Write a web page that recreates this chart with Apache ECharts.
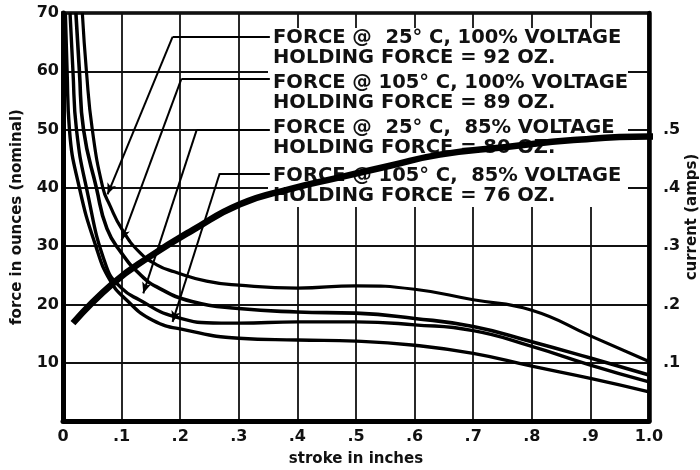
<!DOCTYPE html>
<html><head><meta charset="utf-8">
<script src="https://cdn.jsdelivr.net/npm/echarts@6/dist/echarts.min.js"></script>
<style>html,body{margin:0;padding:0;background:#fff}#c{width:700px;height:470px}</style>
</head><body><div id="c"></div>
<script>
// stroke (inches) vs force (ounces)
const force25c100 = [[0.033,70],[0.04,60],[0.05,50],[0.068,40],[0.08,37],[0.1,33],[0.13,29],[0.16,26.8],[0.19,25.6],[0.245,24],[0.3,23.3],[0.4,22.8],[0.5,23.2],[0.6,22.6],[0.7,20.8],[0.8,19.0],[0.9,14.6],[1.0,10.2]];
const force105c100 = [[0.022,70],[0.028,60],[0.035,50],[0.057,40],[0.075,33],[0.1,28.8],[0.13,25.3],[0.16,23.0],[0.22,20.5],[0.3,19.3],[0.4,18.7],[0.5,18.5],[0.6,17.6],[0.7,16.2],[0.8,13.6],[0.9,10.8],[1.0,7.9]];
const force25c85 = [[0.012,70],[0.017,60],[0.023,50],[0.04,40],[0.074,26.5],[0.1,22.8],[0.13,20.8],[0.19,17.9],[0.27,16.8],[0.3,16.8],[0.4,17.0],[0.5,17.0],[0.6,16.5],[0.7,15.5],[0.8,12.8],[0.9,9.6],[1.0,6.7]];
const force105c85 = [[0.004,70],[0.007,60],[0.011,50],[0.028,40],[0.056,30],[0.08,24.2],[0.108,20.8],[0.153,17.3],[0.21,15.6],[0.3,14.2],[0.4,13.9],[0.5,13.7],[0.6,13.0],[0.7,11.6],[0.8,9.4],[0.9,7.3],[1.0,5.0]];
// stroke vs current (amps)
const currentAmps = [[0.017,0.168],[0.085,0.236],[0.148,0.282],[0.222,0.328],[0.302,0.372],[0.387,0.398],[0.472,0.418],[0.558,0.438],[0.643,0.457],[0.757,0.470],[0.871,0.482],[1.0,0.488],[1.022,0.488]];
// annotation texts
const legendLines = [
  'FORCE @  25\u00b0 C, 100% VOLTAGE', 'HOLDING FORCE = 92 OZ.',
  'FORCE @ 105\u00b0 C, 100% VOLTAGE', 'HOLDING FORCE = 89 OZ.',
  'FORCE @  25\u00b0 C,  85% VOLTAGE', 'HOLDING FORCE = 80 OZ.',
  'FORCE @ 105\u00b0 C,  85% VOLTAGE', 'HOLDING FORCE = 76 OZ.'
];
// leader lines: [start on text, bend, arrow tip] in data coords
const leaders = [
  [[0.353,65.9],[0.187,65.9],[0.076,38.9]],
  [[0.353,58.7],[0.202,58.7],[0.100,31.0]],
  [[0.353,49.9],[0.228,49.9],[0.137,21.9]],
  [[0.353,42.5],[0.2675,42.5],[0.187,17.0]]
];
const xName = 'stroke in inches', yName = 'force in ounces (nominal)', y2Name = 'current (amps)';

const FF = '"DejaVu Sans", sans-serif';
const chart = echarts.init(document.getElementById('c'), null, {renderer:'canvas'});
const lineMarks = [];
leaders.forEach(l => {
  lineMarks.push([{coord:l[0], symbol:'none'},{coord:l[1], symbol:'none'}]);
  lineMarks.push([{coord:l[1], symbol:'none'},{coord:l[2], symbol:'arrow', symbolSize:[7,11]}]);
});
const curve = (d, w) => ({type:'line', data:d, showSymbol:false, smooth:0.5,
  lineStyle:{color:'#000', width:w}, silent:true, animation:false});
const legendY = [38, 58, 83, 103, 128, 148, 176, 196];
const graphics = [{type:'rect', z:1, shape:{x:268, y:28, width:360, height:179}, style:{fill:'#fff'}}];
legendLines.forEach((t,i) => graphics.push({type:'text', z:1, x:273, y:legendY[i],
  style:{text:t, font:'bold 19.5px '+FF, fill:'#111', textVerticalAlign:'middle', verticalAlign:'middle'}}));

const s0 = curve(force25c100, 3.2);
s0.markLine = {silent:true, animation:false, label:{show:false}, symbol:['none','none'],
  lineStyle:{color:'#000', width:2, type:'solid'}, emphasis:{disabled:true}, data: lineMarks};

chart.setOption({
  animation:false,
  backgroundColor:'#fff',
  grid:{left:63, right:51, top:13, bottom:49, outerBoundsMode:'none', containLabel:false,
    show:true, borderColor:'#000', borderWidth:3.5, backgroundColor:'transparent'},
  graphic: graphics,
  xAxis:{type:'value', min:0, max:1, interval:0.1, name:xName, nameLocation:'middle', nameGap:31,
    nameTextStyle:{fontFamily:FF, fontWeight:'bold', fontSize:15, color:'#111'},
    axisLine:{show:true, onZero:false, lineStyle:{color:'#000', width:5}},
    axisTick:{show:false},
    splitLine:{show:true, lineStyle:{color:'#111', width:1.8}},
    axisLabel:{margin:8, fontFamily:FF, fontWeight:'bold', fontSize:16, color:'#111',
      formatter: v => { const r = Math.round(v*10); return r===0 ? '0' : (r===10 ? '1.0' : '.'+r); }}},
  yAxis:[
    {type:'value', min:0, max:70, interval:10, name:yName, nameLocation:'middle', nameGap:38,
      nameTextStyle:{fontFamily:FF, fontWeight:'bold', fontSize:15, color:'#111'},
      axisLine:{show:true, lineStyle:{color:'#000', width:5}},
      axisTick:{show:false},
      splitLine:{show:true, lineStyle:{color:'#111', width:1.8}},
      axisLabel:{margin:4, fontFamily:FF, fontWeight:'bold', fontSize:16, color:'#111',
        formatter: v => v===0 ? '' : String(v)}},
    {type:'value', min:0, max:0.7, interval:0.1, position:'right', name:y2Name, nameLocation:'middle', nameGap:36, nameRotate:90,
      nameMoveOverlap:false,
      nameTextStyle:{fontFamily:FF, fontWeight:'bold', fontSize:15, color:'#111'},
      axisLine:{show:true, lineStyle:{color:'#000', width:4.5}},
      axisTick:{show:false},
      splitLine:{show:false},
      axisLabel:{margin:14, fontFamily:FF, fontWeight:'bold', fontSize:16, color:'#111',
        formatter: v => { const r = Math.round(v*10); return (r>=1 && r<=5) ? '.'+r : ''; }}}
  ],
  series:[
    s0,
    curve(force105c100, 3.6),
    curve(force25c85, 3.4),
    curve(force105c85, 3.4),
    Object.assign(curve(currentAmps, 6.5), {yAxisIndex:1, clip:false})
  ]
});
</script></body></html>
